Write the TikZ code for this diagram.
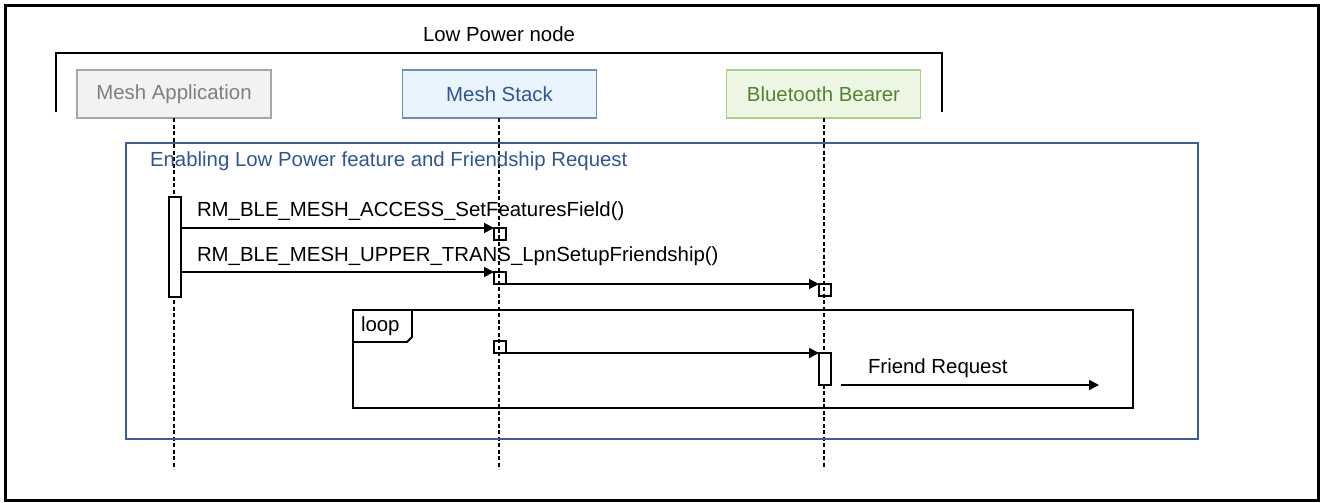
\documentclass[tikz,border=0pt]{standalone}
\usepackage{fontspec}
\setmainfont{Liberation Sans}
\usetikzlibrary{arrows.meta}
\definecolor{frameblue}{RGB}{59,94,160}
\definecolor{titleblue}{RGB}{47,85,151}
\definecolor{appfill}{RGB}{242,242,242}
\definecolor{appdraw}{RGB}{166,166,166}
\definecolor{apptext}{RGB}{127,127,127}
\definecolor{stkfill}{RGB}{234,244,253}
\definecolor{stkdraw}{RGB}{108,142,191}
\definecolor{stktext}{RGB}{47,85,151}
\definecolor{btfill}{RGB}{238,247,228}
\definecolor{btdraw}{RGB}{169,209,142}
\definecolor{bttext}{RGB}{84,130,53}
\tikzset{
  every node/.style={outer sep=0pt},
  txt/.style={font=\fontsize{20.4}{24}\selectfont, inner sep=0pt},
  part/.style={draw, line width=1.6pt, minimum width=194pt, minimum height=48pt, inner sep=0pt, font=\fontsize{20.4}{24}\selectfont},
  lifeline/.style={line width=1.5pt, dash pattern=on 4pt off 2.5pt},
  actbar/.style={draw, fill=white, line width=1.6pt, inner sep=0pt},
  sqbox/.style={draw, line width=1.6pt, minimum size=12pt, inner sep=0pt, anchor=north west},
  msg/.style={line width=1.8pt, -{Triangle[length=10pt,width=10pt]}},
}
\begin{document}
\begin{tikzpicture}[x=1pt,y=-1pt]
\useasboundingbox (0,0) rectangle (1322,503);
% outer frame
\node[draw, line width=2.2pt, minimum width=1313pt, minimum height=495pt, inner sep=0pt] (outer) at (662,253) {};
% Low Power node bracket
\node[txt, anchor=base] (lpn) at (499,42) {Low Power node};
\draw[line width=2.2pt] (56,112) -- (56,53) -- (942,53) -- (942,112);
% participants
\node[part, fill=appfill, draw=appdraw, text=apptext] (app) at (174,94) {Mesh Application};
\node[part, fill=stkfill, draw=stkdraw, text=stktext] (stk) at (499.5,94) {Mesh Stack};
\node[part, fill=btfill, draw=btdraw, text=bttext] (bt) at (823.5,94) {Bluetooth Bearer};
% lifeline ends
\coordinate (appEnd) at (174,469);
\coordinate (stkEnd) at (499,469);
\coordinate (btEnd) at (824,469);
\draw[lifeline] (174,118) -- (appEnd);
\draw[lifeline] (499,118) -- (stkEnd);
\draw[lifeline] (824,118) -- (btEnd);
% combined fragment frame
\node[draw=frameblue, line width=2.2pt, minimum width=1072pt, minimum height=296pt, inner sep=0pt] (frag) at (662,291) {};
\node[txt, anchor=base west, text=titleblue] (fragtitle) at (150,166) {Enabling Low Power feature and Friendship Request};
% activation on Mesh Application
\node[actbar, minimum width=12pt, minimum height=100pt] (abar) at (175,247) {};
% message 1
\node[sqbox] (s1) at (494,228) {};
\draw[msg] (abar.east |- s1.north west) -- (s1.north west);
\node[txt, anchor=base west] (l1) at (197,216) {RM\_BLE\_MESH\_ACCESS\_SetFeaturesField()};
% message 2
\node[sqbox] (s2) at (494,272) {};
\draw[msg] (abar.east |- s2.north west) -- (s2.north west);
\node[txt, anchor=base west] (l2) at (197,261) {RM\_BLE\_MESH\_UPPER\_TRANS\_LpnSetupFriendship()};
% to bearer
\node[sqbox] (s3) at (819,284) {};
\draw[msg] (s2.south east) -- (s3.north west);
% loop fragment
\node[draw, line width=1.8pt, minimum width=780pt, minimum height=98pt, inner sep=0pt, anchor=north west] (loop) at (353,310) {};
\draw[line width=1.8pt] (353,310) -- (412,310) -- (412,337) -- (407,342) -- (353,342);
\node[txt, anchor=base west] (looplbl) at (361,331) {loop};
\node[sqbox] (s4) at (494,341) {};
\node[actbar, minimum width=12pt, minimum height=32pt, anchor=north west] (bbar) at (819,353) {};
\draw[msg] (s4.south east) -- (bbar.north west);
\coordinate (frEnd) at (1099,385);
\draw[msg] ([xshift=10pt]bbar.south east) -- (frEnd);
\node[txt, anchor=base west] (frl) at (868,373) {Friend Request};
\end{tikzpicture}
\end{document}
